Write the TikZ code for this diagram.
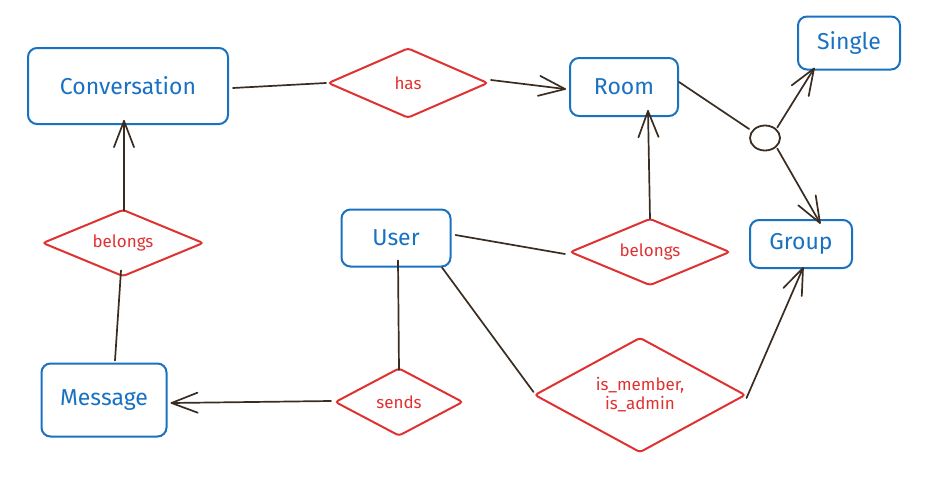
\documentclass[tikz,border=0pt]{standalone}
\usepackage{fontspec}
\setmainfont{Fira Sans}
\usetikzlibrary{shapes.geometric,calc}
\definecolor{entblue}{HTML}{1971C2}
\definecolor{relred}{HTML}{E03131}
\definecolor{linebrown}{HTML}{3A2C20}
\tikzset{
  entity/.style={draw=entblue, line width=2pt, rounded corners=9pt, text=entblue, font=\fontsize{23}{26}\selectfont, inner sep=0pt},
  relation/.style={draw=relred, line width=2pt, shape=diamond, rounded corners=3pt, text=relred, font=\fontsize{17}{19}\selectfont, inner sep=0pt, align=center, shape aspect=2.3},
  conn/.style={draw=linebrown, line width=1.7pt, line cap=round, line join=round},
}
\newcommand\erarrow[2]{\draw[conn] (#1) -- (#2);
  \draw[conn] ($(#2)!28pt!21:(#1)$) -- (#2) -- ($(#2)!28pt!-21:(#1)$);}
\begin{document}
\begin{tikzpicture}[x=1pt,y=-1pt]
\useasboundingbox (0,0) rectangle (951,490);
% entities
\node[entity, minimum width=200pt, minimum height=76pt] (conv) at (128,86) {Conversation};
\node[entity, minimum width=108pt, minimum height=58pt] (room) at (624,87) {Room};
\node[entity, minimum width=102pt, minimum height=53pt] (single) at (849,43) {Single};
\node[entity, minimum width=102pt, minimum height=48pt] (group) at (801,244) {Group};
\node[entity, minimum width=109pt, minimum height=57pt] (user) at (396,238) {User};
\node[entity, minimum width=125pt, minimum height=73pt] (msg) at (104,400) {Message};
% relations
\node[relation, minimum width=160pt, minimum height=70pt] (has) at (408,83) {has};
\node[relation, minimum width=160pt, minimum height=67pt] (belR) at (650,252) {belongs};
\node[relation, minimum width=161pt, minimum height=67pt] (belL) at (123,243) {belongs};
\node[relation, minimum width=128pt, minimum height=68pt] (sends) at (399,402) {sends};
\node[relation, minimum width=211pt, minimum height=115pt, shape aspect=1.8] (isad) at (640,395) {is\_member,\\is\_admin};
% disjoint circle
\node[draw=linebrown, line width=1.8pt, ellipse, minimum width=30pt, minimum height=25pt, inner sep=0pt] (circ) at (765,138) {};
% connector end points
\coordinate (hasE) at ([xshift=2pt,yshift=3pt]has.east);
\coordinate (roomW) at ([xshift=-4pt,yshift=-2pt]room.west);
\coordinate (circNE) at ([xshift=1pt,yshift=1pt]circ.north east);
\coordinate (singleS) at ([xshift=-35pt,yshift=2pt]single.south);
\coordinate (circSE) at ([xshift=1pt,yshift=-1pt]circ.south east);
\coordinate (groupN) at ([xshift=19pt,yshift=-4pt]group.north);
\coordinate (belRN) at ([yshift=-1pt]belR.north);
\coordinate (roomS) at ([xshift=24pt,yshift=6pt]room.south);
\coordinate (sendsW) at ([xshift=-3pt,yshift=1pt]sends.west);
\coordinate (msgE) at ([xshift=4pt,yshift=-3pt]msg.east);
\coordinate (belLN) at ([xshift=1pt,yshift=-2pt]belL.north);
\coordinate (convS) at ([xshift=-4pt,yshift=4pt]conv.south);
\coordinate (isadE) at ([yshift=-3pt]isad.east);
\coordinate (groupS) at ([xshift=2pt,yshift=1pt]group.south);
% connectors
\draw[conn] ([xshift=4pt,yshift=-2pt]conv.east) -- ([xshift=-1pt]has.west);
\erarrow{hasE}{roomW}
\draw[conn] ([yshift=5pt]room.east) -- (circ.west |- 0,129);
\erarrow{circNE}{singleS}
\erarrow{circSE}{groupN}
\erarrow{belRN}{roomS}
\draw[conn] ([xshift=4pt,yshift=3pt]user.east) -- ([xshift=-4pt,yshift=-2pt]belR.west);
\draw[conn] ([xshift=2pt,yshift=7pt]user.south) -- ([yshift=-3pt]sends.north);
\erarrow{sendsW}{msgE}
\draw[conn] ([xshift=11pt,yshift=2pt]msg.north) -- ([xshift=-2pt,yshift=7pt]belL.south);
\erarrow{belLN}{convS}
\draw[conn] ([xshift=46pt]user.south) -- ([yshift=3pt]isad.west);
\erarrow{isadE}{groupS}
\end{tikzpicture}
\end{document}
